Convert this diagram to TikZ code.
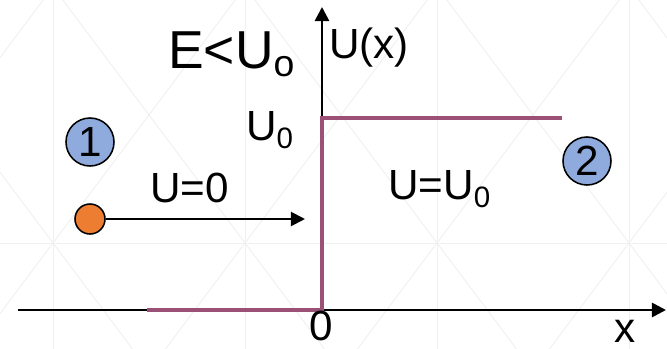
\documentclass[tikz,border=0pt]{standalone}
\usepackage{fontspec}
\setmainfont{Liberation Sans}
\usetikzlibrary{arrows.meta}

\definecolor{stepcol}{HTML}{9B5076}
\definecolor{regionblue}{HTML}{8FAADC}
\definecolor{particleorange}{HTML}{ED7D31}
\definecolor{bglattice}{HTML}{F0F0F0}

\begin{document}
\begin{tikzpicture}[
    x=0.025cm, y=-0.025cm,
    % Styles
    axisline/.style={draw=black, line width=1.9pt, -{Triangle[length=10pt, width=10pt]}},
    stepline/.style={draw=stepcol, line width=3.5pt, line join=miter},
    motionarrow/.style={draw=black, line width=1.4pt, -{Triangle[length=10pt, width=10pt]}},
    regioncirc/.style={
        circle, draw=black, line width=1.1pt, fill=regionblue,
        minimum size=48*0.025cm, inner sep=0pt,
        font=\fontsize{30}{36}\selectfont
    },
    particle/.style={
        circle, draw=black, line width=1.1pt, fill=particleorange,
        minimum size=30*0.025cm, inner sep=0pt
    },
    biglabel/.style={inner sep=0pt, anchor=base west, font=\fontsize{38}{44}\selectfont},
    axislabel/.style={inner sep=0pt, anchor=base west, font=\fontsize{30}{36}\selectfont},
    bgline/.style={draw=bglattice, line width=0.7pt},
]
\useasboundingbox (0,0) rectangle (667,349);

%--- Background lattice ---%
\begin{scope}
\clip (0,0) rectangle (667,349);
\draw[bgline] (0,243) -- (667,243);
\foreach \xo in {-139,53,245,437,629,821} {
    \draw[bgline] (\xo,-20) -- (\xo,369);
    \draw[bgline] ({\xo-197.25},-20) -- ({\xo+94.5},369);
    \draw[bgline] ({\xo+197.25},-20) -- ({\xo-94.5},369);
}
\end{scope}

%--- Axes ---%
\coordinate (xstart) at (18,310);
\coordinate (xend)   at (666,310);
\coordinate (origin) at (322,310);
\coordinate (ytop)   at (322,7);

\draw[axisline] (xstart) -- (xend);
\draw[axisline] (origin) -- (ytop);

%--- Potential step ---%
\coordinate (stepL) at (147,310);
\coordinate (stepT) at (322,118);
\coordinate (stepR) at (562,118);

\draw[stepline] (stepL) -- (origin) -- (stepT) -- (stepR);

%--- Labels ---%
\node[biglabel]  (cond)  at (168,68)  {E<U\textsubscript{o}};
\node[axislabel] (ulab)  at (329,58)  {U(x)};
\node[axislabel] (u0lab) at (246,140) {U\textsubscript{0}};
\node[axislabel] (zlab)  at (309,340) {0};
\node[axislabel] (xlab)  at (614,342) {x};
\node[axislabel] (uone)  at (150,202) {U=0};
\node[axislabel] (utwo)  at (388,199) {U=U\textsubscript{0}};

%--- Regions ---%
\node[regioncirc] (reg1) at (90,142)  {1};
\node[regioncirc] (reg2) at (587,161) {2};

%--- Incoming particle ---%
\node[particle] (part) at (90,219) {};
\coordinate (partend) at (305,219);
\draw[motionarrow] (part) -- (partend);

\end{tikzpicture}
\end{document}
